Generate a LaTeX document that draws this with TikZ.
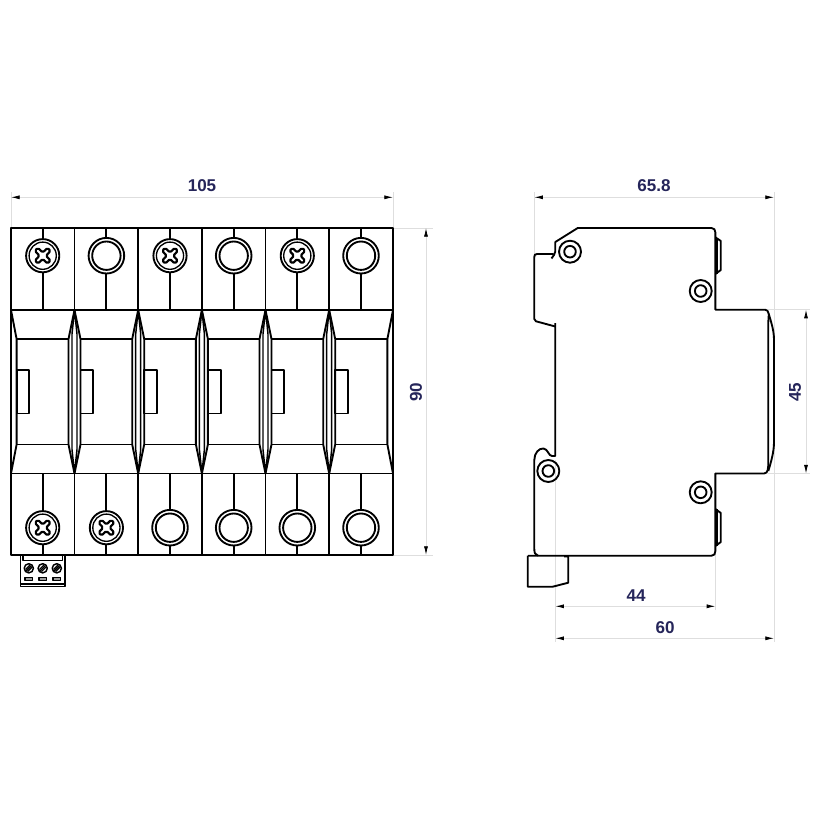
\documentclass[tikz,border=0pt]{standalone}
\usepackage{fontspec}
\setmainfont{Liberation Sans}
\usetikzlibrary{arrows.meta}
\definecolor{dimtext}{HTML}{25255A}
\definecolor{dimline}{HTML}{DEDEDE}
\tikzset{
  part/.style={draw=black,line width=1.4pt,line join=round},
  thin part/.style={draw=black,line width=1pt,line join=round},
  ext/.style={draw=dimline,line width=0.6pt},
  dimen/.style={draw=dimline,line width=0.6pt,{Latex[length=6.5pt,width=3pt,black]}-{Latex[length=6.5pt,width=3pt,black]}},
  dimlabel/.style={text=dimtext,font=\bfseries\fontsize{12.8pt}{14pt}\selectfont,inner sep=0pt},
  px/.style={x=0.75pt,y=-0.75pt},
  plainhole/.pic={
    \draw[part] (0,0) circle (17.8);
    \draw[part] (0,0) circle (14.2);
  },
  screwhead/.pic={
    \draw[part] (0,0) circle (16.6);
    \draw[thin part] (0,0) circle (13.6);
    \draw[part,rounded corners=1.2pt,rotate=45,line width=1.6pt]
      (-2.2,-9) -- (2.2,-9) -- (2.2,-2.2) -- (9,-2.2) -- (9,2.2)
      -- (2.2,2.2) -- (2.2,9) -- (-2.2,9) -- (-2.2,2.2) -- (-9,2.2)
      -- (-9,-2.2) -- (-2.2,-2.2) -- cycle;
  },
  sidescrew/.pic={
    \draw[part] (0,0) circle (11);
    \draw[part] (0,0) circle (5.8);
  },
  termscrew/.pic={
    \fill[white] (0,0) circle (5);
    \draw[part,line width=1.1pt] (0,0) circle (4.6);
    \draw[part,line width=1pt] (-2.6,2.6) -- (2.6,-2.6);
    \draw[part,line width=1pt] (-1.2,3.2) -- (3.2,-1.2);
    \draw[part,line width=1pt] (-3.2,1.2) -- (1.2,-3.2);
  },
  termslot/.pic={
    \draw[thin part,fill=black!40] (-3.8,-1.5) rectangle (3.8,1.5);
  },
}
\begin{document}
\begin{tikzpicture}[px]
\useasboundingbox (0,0) rectangle (820,820);
\fill[white] (0,0) rectangle (820,820);

% ---------- front view: dimension lines (under the drawing)
\coordinate (wL) at (11,197.3);  \coordinate (wR) at (393,197.3);
\coordinate (wLb) at (11,228);   \coordinate (wRb) at (393,228);
\coordinate (hT) at (426,228);   \coordinate (hB) at (426,555);
\draw[ext] (11,192) -- (wLb);
\draw[ext] (393,192) -- (wRb);
\draw[ext] (393,228) -- (433,228);
\draw[ext] (393,555) -- (433,555);
\draw[dimen] (wL) -- (wR);
\draw[dimen] (hT) -- (hB);
\node[dimlabel] (n105) at (202,186) {105};
\node[dimlabel,rotate=90] (n90) at (416,392) {90};

% ---------- front view: body
\draw[part] (11,228) rectangle (393,555);
\draw[part] (11,310) -- (393,310);
\draw[part] (11,473.5) -- (393,473.5);

% module stubs and terminals
\foreach \cx in {42.7,106.4,170,233.7,297.3,361}{
  \draw[part] (\cx,228) -- (\cx,310);
  \draw[part] (\cx,473.5) -- (\cx,555);
}
% separators, top and bottom bands
\foreach \sx in {74.5,138.2,201.9,265.5,329.2}{
  \draw[part] (\sx,228) -- (\sx,310);
  \draw[part] (\sx,473.5) -- (\sx,555);
  % spindle
  \draw[part] (\sx,310) -- ({\sx-6},339) -- ({\sx-6},444.5) -- (\sx,473.5)
              -- ({\sx+6},444.5) -- ({\sx+6},339) -- cycle;
  \draw[part,line width=1.1pt] (\sx,310) -- ({\sx-2.5},334) -- ({\sx-2.5},449.5) -- (\sx,473.5)
              -- ({\sx+2.5},449.5) -- ({\sx+2.5},334) -- cycle;
}
% edge half-spindles
\draw[part] (11,310) -- (16.6,339) -- (16.6,444.5) -- (11,473.5);
\draw[part] (393,310) -- (387.4,339) -- (387.4,444.5) -- (393,473.5);
% inner bands and tabs
\foreach \lx/\rx in {16.6/68.5,80.5/132.2,144.2/195.9,207.9/259.5,271.5/323.2,335.2/387.4}{
  \draw[part] (\lx,339) -- (\rx,339);
  \draw[part] (\lx,444.5) -- (\rx,444.5);
  \draw[part] (\lx,370) rectangle ({\lx+12.8},413.5);
}
% terminals, top
\foreach \cx in {42.7,170,297.3}{
  \fill[white] (\cx,255.7) circle (17);
  \pic at (\cx,255.7) {screwhead};
}
\foreach \cx in {106.4,233.7,361}{
  \fill[white] (\cx,255.7) circle (18);
  \pic at (\cx,255.7) {plainhole};
}
% terminals, bottom
\foreach \cx in {42.7,106.4}{
  \fill[white] (\cx,527.7) circle (17);
  \pic at (\cx,527.7) {screwhead};
}
\foreach \cx in {170,233.7,297.3,361}{
  \fill[white] (\cx,527.7) circle (18);
  \pic at (\cx,527.7) {plainhole};
}
% small connector block
\draw[part] (20.5,556) -- (20.5,586.5) -- (65,586.5) -- (65,556);
\draw[thin part] (23,556) -- (23,560.5) -- (62.5,560.5) -- (62.5,556);
\draw[thin part] (21,584) -- (64.5,584);
\foreach \cx in {28.8,42.7,56.8}{
  \pic at (\cx,568.3) {termscrew};
  \pic at (\cx,578.7) {termslot};
}

% ---------- side view: dimensions
\coordinate (sL) at (534.3,197.3); \coordinate (sR) at (774,197.3);
\coordinate (a44L) at (555.3,606.3); \coordinate (a44R) at (715.4,606.3);
\coordinate (a60L) at (555.3,638.3); \coordinate (a60R) at (774,638.3);
\coordinate (v45T) at (806,309.7); \coordinate (v45B) at (806,473.5);
\draw[ext] (534.3,192) -- (534.3,254);
\draw[ext] (774,192) -- (774,642);
\draw[ext] (555.3,460) -- (555.3,642);
\draw[ext] (715.4,551) -- (715.4,610);
\draw[ext] (768,309.7) -- (810,309.7);
\draw[ext] (768,473.5) -- (810,473.5);
\draw[dimen] (sL) -- (sR);
\draw[dimen] (a44L) -- (a44R);
\draw[dimen] (a60L) -- (a60R);
\draw[dimen] (v45T) -- (v45B);
\node[dimlabel] (n658) at (654,186) {65.8};
\node[dimlabel] (n44) at (636,596) {44};
\node[dimlabel] (n60) at (665,628) {60};
\node[dimlabel,rotate=90] (n45) at (795,392) {45};

% ---------- side view: outline
\draw[part] (551.5,258.5) .. controls (553,256) and (555.3,254) .. (555.3,251.5)
  -- (555.3,242) -- (577.7,228) -- (711.5,228)
  .. controls (714,228) and (715.4,230) .. (715.4,232.5)
  -- (715.4,309.7) -- (765,309.7)
  .. controls (767,309.7) and (768.3,311) .. (768.8,314)
  -- (768.3,322) -- (768.3,461)
  .. controls (768.3,468) and (768.3,473.5) .. (764,473.5)
  -- (715.4,473.5) -- (715.4,551)
  .. controls (715.4,554) and (714,555.7) .. (711.5,555.7)
  -- (528,555.7);
\draw[part] (768.8,314) .. controls (771,322) and (774,330) .. (774,340)
  -- (774,442) .. controls (774,452) and (771,462) .. (768.3,471);
\draw[part] (553.5,254) -- (537,254)
  .. controls (535,254) and (534.3,255) .. (534.3,257)
  -- (534.3,319) .. controls (534.3,320.5) and (535,321) .. (536,321.3)
  -- (555.3,326.5);
\draw[part] (555.3,323) -- (555.3,456) -- (552,456)
  .. controls (548.5,456) and (548,449) .. (543.5,448.5)
  .. controls (539,448) and (534.3,453) .. (534.3,460)
  -- (534.3,549)
  .. controls (534.3,552.5) and (535,555) .. (538,555.7);
% DIN clip
\draw[part] (527.7,555.7) -- (527.7,586.7) -- (552.7,586.7) -- (568.3,582.7) -- (568.3,556.5) -- (564,556.5);
% bumps
\draw[part] (715.4,237.3) -- (720.8,241) -- (720.8,270) -- (715.4,274);
\draw[part] (716.6,238) -- (716.6,274);
\draw[part] (715.4,509) -- (720.8,513) -- (720.8,542) -- (715.4,546);
\draw[part] (716.6,509) -- (716.6,546);
% side screws
\pic at (570,251.7) {sidescrew};
\pic at (548.3,471) {sidescrew};
\pic at (700.7,291) {sidescrew};
\pic at (700.7,492.3) {sidescrew};
\end{tikzpicture}
\end{document}
